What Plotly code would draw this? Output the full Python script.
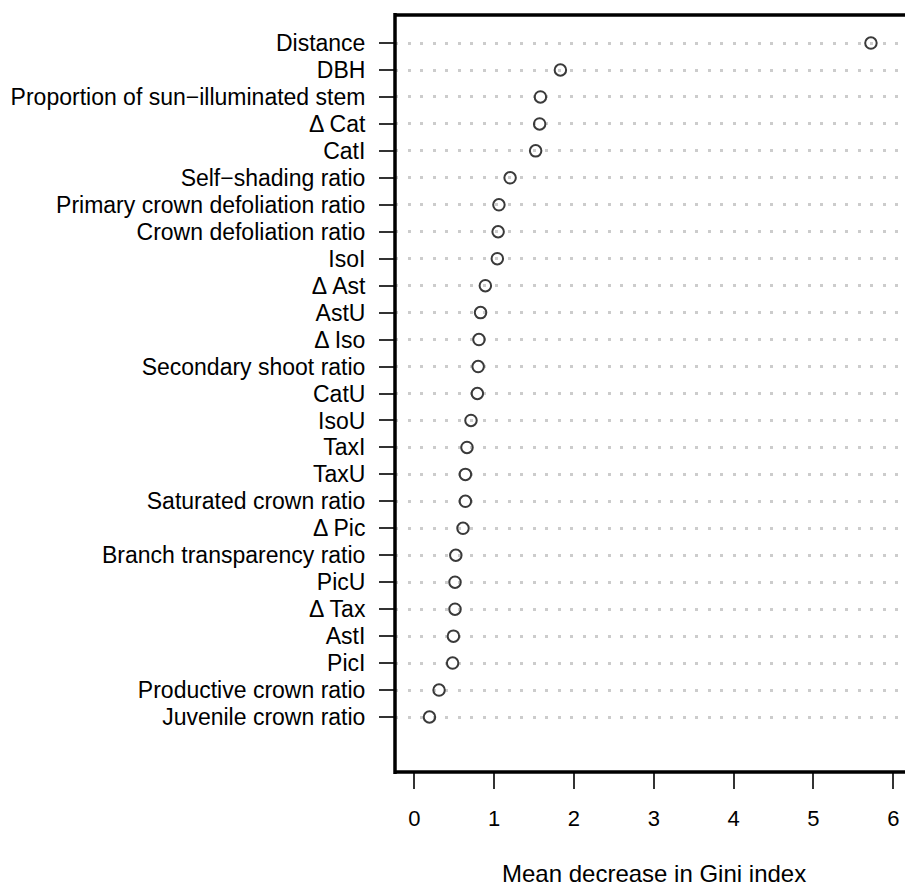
import plotly.graph_objects as go

# Variables from top to bottom as shown
variables = [
    "Distance", "DBH", "Proportion of sun\u2212illuminated stem", "\u0394 Cat", "CatI",
    "Self\u2212shading ratio", "Primary crown defoliation ratio", "Crown defoliation ratio",
    "IsoI", "\u0394 Ast", "AstU", "\u0394 Iso", "Secondary shoot ratio", "CatU", "IsoU",
    "TaxI", "TaxU", "Saturated crown ratio", "\u0394 Pic", "Branch transparency ratio",
    "PicU", "\u0394 Tax", "AstI", "PicI", "Productive crown ratio", "Juvenile crown ratio",
]
gini_decrease = [
    5.72, 1.83, 1.58, 1.57, 1.52, 1.20, 1.06, 1.05, 1.04, 0.89, 0.83, 0.81, 0.80,
    0.79, 0.71, 0.66, 0.64, 0.64, 0.61, 0.52, 0.51, 0.51, 0.49, 0.48, 0.31, 0.19,
]
x_ticks = [0, 1, 2, 3, 4, 5, 6]

n = len(variables)
ypos = [n - i for i in range(n)]  # top row = n, bottom row = 1

FONT = "Liberation Sans, Arial, Helvetica, sans-serif"

fig = go.Figure()
fig.add_trace(go.Scatter(
    x=gini_decrease, y=ypos, mode="markers",
    marker=dict(symbol="circle-open", size=11.5, color="#3a3a3a",
                line=dict(width=2, color="#3a3a3a")),
    showlegend=False, hoverinfo="skip",
))

px_per_unit = 79.83
left_px = 395
plot_w = 905 - left_px
xmin = -(414.3 - left_px) / px_per_unit
xmax = xmin + plot_w / px_per_unit

fig.update_layout(
    width=905, height=888,
    margin=dict(l=left_px, r=0, t=15, b=116, pad=0),
    paper_bgcolor="white", plot_bgcolor="white",
    font=dict(family=FONT, color="black"),
    xaxis=dict(
        range=[xmin, xmax], tickmode="array", tickvals=x_ticks,
        ticktext=[str(t) for t in x_ticks],
        showgrid=False, zeroline=False, showline=False,
        ticks="outside", ticklen=16, tickwidth=1.5, tickcolor="#333333",
        tickfont=dict(size=22, family=FONT, color="black"),
        ticklabelstandoff=11,
    ),
    yaxis=dict(
        range=[-1.04, 27.04], tickmode="array", tickvals=ypos, ticktext=variables,
        showgrid=True, gridcolor="#cccccc", gridwidth=3, griddash="3px,9.5px",
        zeroline=False, showline=False,
        ticks="outside", ticklen=15, tickwidth=1.5, tickcolor="#333333",
        tickfont=dict(size=23, family=FONT, color="black"),
        ticklabelstandoff=9,
    ),
    shapes=[
        dict(type="line", xref="paper", yref="paper", x0=0, x1=0, y0=-0.0025, y1=1.0025,
             line=dict(color="black", width=3.5), layer="above"),
        dict(type="line", xref="paper", yref="paper", x0=0, x1=1.1, y0=1, y1=1,
             line=dict(color="black", width=3.5), layer="above"),
        dict(type="line", xref="paper", yref="paper", x0=0, x1=1.1, y0=0, y1=0,
             line=dict(color="black", width=3.5), layer="above"),
    ],
    annotations=[
        dict(text="Mean decrease in Gini index", xref="paper", yref="paper",
             x=(653.5 - left_px) / plot_w, y=-101 / 756.7, xanchor="center", yanchor="middle",
             showarrow=False, font=dict(size=24, family=FONT, color="black")),
    ],
)

fig.write_html("out.html")
